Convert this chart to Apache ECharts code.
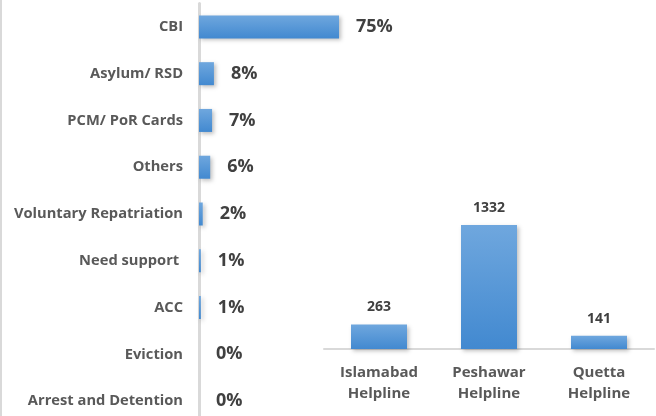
<!DOCTYPE html>
<html>
<head>
<meta charset="utf-8">
<script src="https://cdn.jsdelivr.net/npm/echarts@6/dist/echarts.min.js"></script>
<style>html,body{margin:0;padding:0;background:#fff}#c{width:656px;height:416px}</style>
</head>
<body>
<div id="c"></div>
<script>
const issueCategories = ['CBI','Asylum/ RSD','PCM/ PoR Cards','Others','Voluntary Repatriation','Need support ','ACC','Eviction','Arrest and Detention'];
const issueShares = [75, 8, 7, 6, 2, 1, 1, 0, 0];
const helplineCategories = ['Islamabad\nHelpline','Peshawar\nHelpline','Quetta\nHelpline'];
const helplineCalls = [263, 1332, 141];

const FONT = '"Open Sans", Lato, sans-serif';
const barColor = {
  type: 'linear', x: 0, y: 0, x2: 0, y2: 1,
  colorStops: [{offset: 0, color: '#6fa7de'}, {offset: 1, color: '#4289d0'}]
};
const chart = echarts.init(document.getElementById('c'), null, {renderer: 'canvas'});
chart.setOption({
  animation: false,
  backgroundColor: '#fff',
  grid: [
    {left: 199, top: 3.5, width: 186.7, height: 421, outerBoundsMode: 'none', containLabel: false},
    {left: 324, top: 209.3, width: 330, height: 139.7, outerBoundsMode: 'none', containLabel: false}
  ],
  xAxis: [
    {gridIndex: 0, type: 'value', min: 0, max: 100, show: false},
    {gridIndex: 1, type: 'category', data: helplineCategories,
     axisLine: {show: true, lineStyle: {color: '#d9d9d9', width: 2}},
     axisTick: {show: false},
     axisLabel: {color: '#595959', fontFamily: FONT, fontWeight: 'bold', fontSize: 15, lineHeight: 21, margin: 13}}
  ],
  yAxis: [
    {gridIndex: 0, type: 'category', data: issueCategories, inverse: true,
     axisLine: {show: true, lineStyle: {color: '#d9d9d9', width: 3}},
     axisTick: {show: false},
     axisLabel: {color: '#595959', fontFamily: FONT, fontWeight: 'bold', fontSize: 14.7, margin: 16, padding: [2, 0, 0, 0]}},
    {gridIndex: 1, type: 'value', min: 0, max: 1500, show: false}
  ],
  series: [
    {type: 'bar', xAxisIndex: 0, yAxisIndex: 0, data: issueShares, barWidth: 23,
     itemStyle: {color: barColor, shadowColor: 'rgba(0,0,0,0.25)', shadowBlur: 4, shadowOffsetX: 2, shadowOffsetY: 2},
     label: {show: true, position: 'right', distance: 17, formatter: '{c}%', color: '#404040',
       fontFamily: FONT, fontWeight: 'bold', fontSize: 18, padding: [3, 0, 0, 0]}},
    {type: 'bar', xAxisIndex: 1, yAxisIndex: 1, data: helplineCalls, barWidth: 56,
     itemStyle: {color: barColor, shadowColor: 'rgba(0,0,0,0.25)', shadowBlur: 4, shadowOffsetX: 2, shadowOffsetY: 2},
     label: {show: true, position: 'top', distance: 10, color: '#404040',
       fontFamily: FONT, fontWeight: 'bold', fontSize: 14}}
  ],
  graphic: [
    {type: 'rect', left: 0, top: 0, shape: {width: 2, height: 416}, style: {fill: '#d9d9d9'}, silent: true}
  ]
});
</script>
</body>
</html>
